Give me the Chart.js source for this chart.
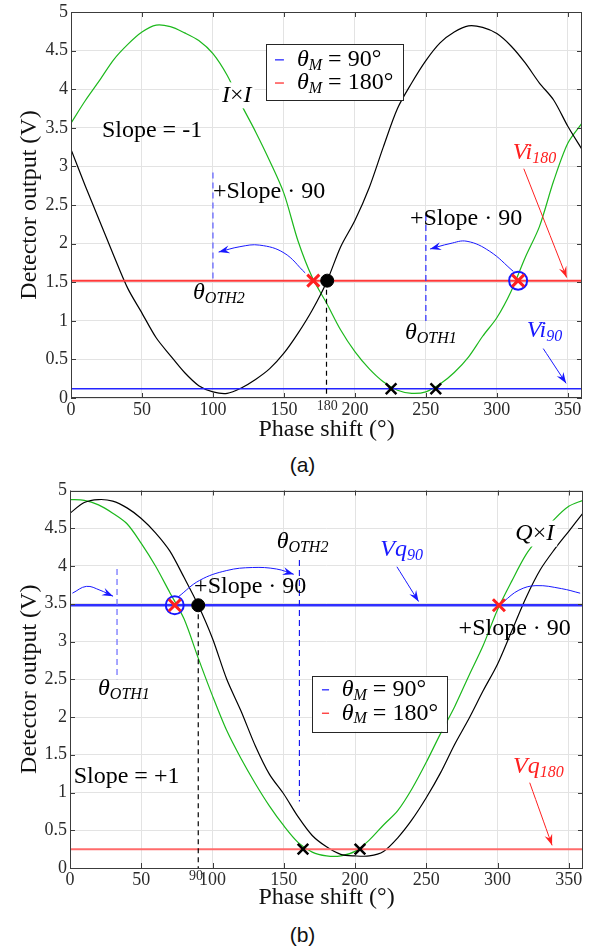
<!DOCTYPE html>
<html>
<head>
<meta charset="utf-8">
<script src="https://cdn.jsdelivr.net/npm/chart.js@4.4.1/dist/chart.umd.min.js"></script>
<style>
    html, body { margin: 0; padding: 0; background: #fff; }
    body { width: 599px; height: 951px; position: relative; overflow: hidden; }
    .panel { position: absolute; left: 0; width: 599px; height: 450px; }
    .cap { position: absolute; left: 3px; width: 599px; text-align: center;
           font-family: 'Liberation Sans', Arial, sans-serif; font-size: 21px; color: #111; }
</style>
</head>
<body>
<div class="panel" style="top:0"><canvas id="chartA" width="599" height="450"></canvas></div>
<div class="cap" style="top:453px">(a)</div>
<div class="panel" style="top:470px"><canvas id="chartB" width="599" height="450"></canvas></div>
<div class="cap" style="top:923px">(b)</div>

<script>
/*
   Detector output vs phase shift, two panels.
   Values every 10 degrees.
*/

const phaseDeg = [0, 10, 20, 30, 40, 50, 60, 70, 80, 90, 100, 110, 120, 130, 140, 150, 160, 170, 180,
    190, 200, 210, 220, 230, 240, 250, 260, 270, 280, 290, 300, 310, 320, 330, 340, 350, 360];

// (a) I x I
const aBlack = [3.22, 2.75, 2.30, 1.85, 1.42, 1.10, 0.78, 0.55, 0.33, 0.16, 0.08, 0.06, 0.13, 0.24, 0.38, 0.58, 0.84, 1.14, 1.50,
    1.96, 2.30, 2.72, 3.25, 3.75, 4.08, 4.37, 4.60, 4.74, 4.82, 4.80, 4.72, 4.56, 4.34, 4.08, 3.86, 3.52, 3.22];
const aGreen = [3.56, 3.85, 4.11, 4.38, 4.58, 4.74, 4.83, 4.81, 4.73, 4.63, 4.46, 4.18, 3.80, 3.45, 3.07, 2.65, 2.03, 1.56, 1.23,
    0.88, 0.60, 0.38, 0.21, 0.10, 0.06, 0.08, 0.18, 0.33, 0.53, 0.80, 1.04, 1.38, 1.82, 2.22, 2.81, 3.30, 3.56];
const aVi90 = 0.12;
const aVi180 = 1.52;

// (b) Q x I
const bBlack = [4.70, 4.84, 4.88, 4.86, 4.77, 4.63, 4.44, 4.20, 3.85, 3.48, 3.04, 2.50, 2.08, 1.62, 1.24, 0.98, 0.68, 0.43, 0.28,
    0.18, 0.16, 0.16, 0.22, 0.40, 0.64, 0.93, 1.26, 1.64, 1.98, 2.35, 2.70, 3.14, 3.58, 3.95, 4.22, 4.46, 4.70];
const bGreen = [4.88, 4.87, 4.81, 4.70, 4.56, 4.30, 4.00, 3.65, 3.30, 2.78, 2.28, 1.82, 1.45, 1.12, 0.82, 0.56, 0.34, 0.21, 0.16,
    0.16, 0.22, 0.37, 0.57, 0.76, 1.05, 1.40, 1.78, 2.14, 2.55, 2.95, 3.42, 3.80, 4.15, 4.40, 4.62, 4.79, 4.87];
const bVq90 = 3.48;
const bVq180 = 0.25;

// markers [phase, volts]
const aRedCross = [[170.7, 1.52], [315, 1.52]];
const aBlackDot = [[180.5, 1.52]];
const aBlueRing = [[315, 1.52]];
const aBlackCross = [[225.5, 0.12], [257, 0.12]];
const bRedCross = [[73.5, 3.48], [301, 3.48]];
const bBlackDot = [[90, 3.48]];
const bBlueRing = [[73.5, 3.48]];
const bBlackCross = [[163.5, 0.25], [203.5, 0.25]];

// dashed guides [phase, from, to]
const aGuides = [[180, 1.52, 0], [100, 2.92, 1.52], [250, 2.37, 0.98]];
const bGuides = [[90, 3.48, 0], [33, 3.96, 2.5], [161, 4.08, 0.88]];

// arrows as point lists
const aArrowLeft = [[165, 1.62], [150, 1.88], [133, 1.98], [119, 1.96], [104, 1.89]];
const aArrowRight = [[311.6, 1.64], [295, 1.90], [279, 2.03], [267, 2.00], [253, 1.93]];
const aArrowVi180 = [[319, 2.97], [349.2, 1.56]];
const aArrowVi90 = [[332.7, 0.64], [348.8, 0.19]];
const bArrowSmall = [[1.7, 3.64], [11.5, 3.73], [21, 3.68], [30.2, 3.60]];
const bArrowBig = [[75.9, 3.59], [91, 3.81], [110, 3.94], [128, 3.98], [145, 3.96], [157, 3.89]];
const bArrowTail = [[304.3, 3.53], [315, 3.68], [327, 3.74], [345, 3.70], [358, 3.64]];
const bArrowVq90 = [[229.4, 3.99], [244.6, 3.53]];
const bArrowVq180 = [[322.6, 1.13], [338.3, 0.30]];

const xTicks = [0, 50, 100, 150, 200, 250, 300, 350];
const legendLabels = ['90°', '180°'];

const SERIF = "'Liberation Serif', 'Times New Roman', serif";
const BLUE = '#1818ff';
const RED = '#ff2020';
const GREEN = '#1cb81c';

document.addEventListener('DOMContentLoaded', () => {
    initPanelA();
    initPanelB();
});

/* ===== helpers ===== */
const toPts = (ys) => phaseDeg.map((x, i) => ({ x, y: ys[i] }));
const pairPts = (arr) => arr.map(p => ({ x: p[0], y: p[1] }));

function curve(ys, color) {
    return { data: toPts(ys), borderColor: color, borderWidth: 1.2, pointRadius: 0, tension: 0.3, order: 5 };
}
function hline(v, color, width) {
    return { data: [{ x: 0, y: v }, { x: 360, y: v }], borderColor: color, borderWidth: width, pointRadius: 0, order: 4 };
}
function guide(g, color, dash) {
    return { data: [{ x: g[0], y: g[1] }, { x: g[0], y: g[2] }], borderColor: color, borderWidth: 1.2,
             borderDash: dash, pointRadius: 0, order: 3 };
}
function arrow(arr, color, head) {
    return { data: pairPts(arr), borderColor: color, borderWidth: 1, pointRadius: 0, tension: 0.4, order: 2, arrowHead: head };
}
function marks(arr, style, color, r, w, fill) {
    return { data: pairPts(arr), showLine: false, pointStyle: style, pointRadius: r, pointBorderWidth: w,
             pointBorderColor: color, pointBackgroundColor: fill || color, order: 0 };
}

const N = (t, c) => ({ t, size: 24, italic: false, sub: false, color: c });
const I = (t, c) => ({ t, size: 24, italic: true, sub: false, color: c });
const S = (t, c) => ({ t, size: 16, italic: true, sub: true, color: c });

function drawRich(ctx, parts, x, y, bg) {
    let cx = x;
    const widths = parts.map(p => {
        ctx.font = (p.italic ? 'italic ' : '') + p.size + 'px ' + SERIF;
        return ctx.measureText(p.t).width;
    });
    if (bg) {
        const w = widths.reduce((a, b) => a + b, 0);
        ctx.fillStyle = '#fff';
        ctx.fillRect(x - 3, y - 13, w + 6, 26);
    }
    ctx.textBaseline = 'middle';
    ctx.textAlign = 'left';
    parts.forEach((p, i) => {
        ctx.font = (p.italic ? 'italic ' : '') + p.size + 'px ' + SERIF;
        ctx.fillStyle = p.color || '#000';
        ctx.fillText(p.t, cx, y + (p.sub ? 6 : 0));
        cx += widths[i];
    });
}

function drawHead(ctx, x1, y1, x2, y2, color) {
    const ang = Math.atan2(y2 - y1, x2 - x1);
    const L = 11, W = 4;
    ctx.save();
    ctx.translate(x2, y2);
    ctx.rotate(ang);
    ctx.fillStyle = color;
    ctx.beginPath();
    ctx.moveTo(0, 0);
    ctx.lineTo(-L, -W);
    ctx.lineTo(-L * 0.65, 0);
    ctx.lineTo(-L, W);
    ctx.closePath();
    ctx.fill();
    ctx.restore();
}

/* Frame, inward ticks, arrow heads, labels, legend */
const DECOR = {};
const decorPlugin = {
    id: 'decor',
    afterDatasetsDraw(chart) {
        const deco = DECOR[chart.canvas.id];
        if (!deco) return;
        const { ctx, chartArea: a } = chart;
        const xs = chart.scales.x, ys = chart.scales.y;
        ctx.save();

        chart.data.datasets.forEach((ds, i) => {
            if (!ds.arrowHead) return;
            const pts = chart.getDatasetMeta(i).data;
            const p1 = pts[pts.length - 2], p2 = pts[pts.length - 1];
            drawHead(ctx, p1.x, p1.y, p2.x, p2.y, ds.borderColor);
        });

        // box and tick marks
        ctx.strokeStyle = '#3c3c3c';
        ctx.lineWidth = 1;
        ctx.strokeRect(Math.round(a.left) + 0.5, Math.round(a.top) + 0.5, Math.round(a.width) - 1, Math.round(a.height) - 1);
        ctx.beginPath();
        xs.ticks.forEach(t => {
            const px = Math.round(xs.getPixelForValue(t.value)) + 0.5;
            ctx.moveTo(px, a.bottom); ctx.lineTo(px, a.bottom - 5);
            ctx.moveTo(px, a.top); ctx.lineTo(px, a.top + 5);
        });
        ys.ticks.forEach(t => {
            const py = Math.round(ys.getPixelForValue(t.value)) + 0.5;
            ctx.moveTo(a.left, py); ctx.lineTo(a.left + 5, py);
            ctx.moveTo(a.right, py); ctx.lineTo(a.right - 5, py);
        });
        ctx.stroke();

        // extra small tick label under the dashed guide
        ctx.font = '14px ' + SERIF;
        ctx.fillStyle = '#2b2b2b';
        ctx.textAlign = 'center';
        ctx.textBaseline = 'middle';
        ctx.fillText(deco.extraTick.text, xs.getPixelForValue(deco.extraTick.x), a.bottom + 8);

        deco.texts.forEach(t => {
            drawRich(ctx, t.parts, xs.getPixelForValue(t.x), ys.getPixelForValue(t.y), t.bg);
        });

        // legend
        const lg = deco.legend;
        const bx1 = xs.getPixelForValue(lg.box[0]), bx2 = xs.getPixelForValue(lg.box[1]);
        const by1 = ys.getPixelForValue(lg.box[2]), by2 = ys.getPixelForValue(lg.box[3]);
        ctx.fillStyle = '#fff';
        ctx.fillRect(bx1, by1, bx2 - bx1, by2 - by1);
        ctx.strokeStyle = '#262626';
        ctx.lineWidth = 1;
        ctx.strokeRect(Math.round(bx1) + 0.5, Math.round(by1) + 0.5, Math.round(bx2 - bx1), Math.round(by2 - by1));
        lg.rows.forEach((r, i) => {
            const py = ys.getPixelForValue(r);
            ctx.strokeStyle = lg.colors[i];
            ctx.lineWidth = 1.2;
            ctx.beginPath();
            ctx.moveTo(xs.getPixelForValue(lg.line[0]), py);
            ctx.lineTo(xs.getPixelForValue(lg.line[1]), py);
            ctx.stroke();
            drawRich(ctx, [I('θ'), S('M'), N(' = ' + legendLabels[i])], xs.getPixelForValue(lg.text), py);
        });
        ctx.restore();
    }
};

function panelOptions(padTop, padRight, yWidth, titlePad) {
    const tickFont = { family: SERIF, size: 18, lineHeight: 1 };
    const titleFont = { family: SERIF, size: 24 };
    return {
        responsive: false,
        animation: false,
        devicePixelRatio: 1,
        layout: { padding: { top: padTop, right: padRight, left: 0, bottom: 0 } },
        plugins: { legend: { display: false }, tooltip: { enabled: false } },
        scales: {
            x: {
                type: 'linear',
                min: 0,
                max: 360,
                afterBuildTicks: (s) => { s.ticks = xTicks.map(v => ({ value: v })); },
                afterFit: (s) => { s.height = 52; },
                ticks: { font: tickFont, color: '#2b2b2b', padding: 3, autoSkip: false, maxRotation: 0 },
                grid: { color: '#e3e3e3', drawTicks: false },
                border: { display: false },
                title: { display: true, text: 'Phase shift (°)', font: titleFont, color: '#111', padding: { bottom: titlePad } }
            },
            y: {
                min: 0,
                max: 5,
                afterFit: (s) => { s.width = yWidth; },
                ticks: { stepSize: 0.5, font: tickFont, color: '#2b2b2b', padding: 3, callback: (v) => String(+v.toFixed(1)) },
                grid: { color: '#e3e3e3', drawTicks: false },
                border: { display: false },
                title: { display: true, text: 'Detector output (V)', font: titleFont, color: '#111', padding: { top: 15 } }
            }
        }
    };
}

/* ===== Panel (a) ===== */
function initPanelA() {
    const ctx = document.getElementById('chartA');
    if (!ctx) return;

    DECOR.chartA = {
        extraTick: { text: '180', x: 180.5 },
        texts: [
            { x: 106.4, y: 3.92, parts: [I('I'), N('×'), I('I')], bg: true },
            { x: 21.8, y: 3.46, parts: [N('Slope = -1')] },
            { x: 100, y: 2.67, parts: [N('+Slope · 90')] },
            { x: 238.8, y: 2.32, parts: [N('+Slope · 90')] },
            { x: 86, y: 1.36, parts: [I('θ'), S('OTH2')] },
            { x: 235.3, y: 0.84, parts: [I('θ'), S('OTH1')] },
            { x: 311.2, y: 3.18, parts: [I('Vi', RED), S('180', RED)] },
            { x: 321, y: 0.87, parts: [I('Vi', BLUE), S('90', BLUE)] }
        ],
        legend: { box: [137.4, 233.9, 4.58, 3.85], rows: [4.38, 4.08], line: [143.7, 150], text: 159.2, colors: [BLUE, RED] }
    };

    new Chart(ctx, {
        type: 'line',
        data: {
            datasets: [
                marks(aRedCross, 'crossRot', RED, 8.5, 3),
                marks(aBlackDot, 'circle', '#000', 6.5, 1),
                marks(aBlueRing, 'circle', BLUE, 9, 2, 'rgba(0,0,0,0)'),
                marks(aBlackCross, 'crossRot', '#000', 7.5, 2.5),
                arrow(aArrowLeft, BLUE, true),
                arrow(aArrowRight, BLUE, true),
                arrow(aArrowVi180, RED, true),
                arrow(aArrowVi90, BLUE, true),
                guide(aGuides[0], '#000', [5, 4]),
                guide(aGuides[1], '#5a5aff', [6, 4]),
                guide(aGuides[2], '#2b2bff', [6, 4]),
                hline(aVi180, '#ff3a3a', 2),
                hline(aVi90, '#2424ff', 1.4),
                curve(aBlack, '#000'),
                curve(aGreen, GREEN)
            ]
        },
        options: panelOptions(8, 17, 71, 6),
        plugins: [decorPlugin]
    });
}

/* ===== Panel (b) ===== */
function initPanelB() {
    const ctx = document.getElementById('chartB');
    if (!ctx) return;

    DECOR.chartB = {
        extraTick: { text: '90', x: 88.5 },
        texts: [
            { x: 145, y: 4.32, parts: [I('θ'), S('OTH2')] },
            { x: 217.7, y: 4.21, parts: [I('Vq', BLUE), S('90', BLUE)] },
            { x: 312.5, y: 4.43, parts: [I('Q'), N('×'), I('I')], bg: true },
            { x: 87.1, y: 3.73, parts: [N('+Slope · 90')] },
            { x: 272.7, y: 3.17, parts: [N('+Slope · 90')] },
            { x: 19.7, y: 2.38, parts: [I('θ'), S('OTH1')] },
            { x: 2.6, y: 1.21, parts: [N('Slope = +1')] },
            { x: 310.9, y: 1.34, parts: [I('Vq', RED), S('180', RED)] }
        ],
        legend: { box: [169.6, 264.5, 2.547, 1.805], rows: [2.36, 2.05], line: [176.8, 181.8], text: 190.7, colors: [BLUE, RED] }
    };

    new Chart(ctx, {
        type: 'line',
        data: {
            datasets: [
                marks(bRedCross, 'crossRot', RED, 8.5, 3),
                marks(bBlackDot, 'circle', '#000', 6.5, 1),
                marks(bBlueRing, 'circle', BLUE, 9, 2, 'rgba(0,0,0,0)'),
                marks(bBlackCross, 'crossRot', '#000', 7.5, 2.5),
                arrow(bArrowSmall, BLUE, true),
                arrow(bArrowBig, BLUE, true),
                arrow(bArrowTail, BLUE, false),
                arrow(bArrowVq90, BLUE, true),
                arrow(bArrowVq180, RED, true),
                guide(bGuides[0], '#000', [5, 4]),
                guide(bGuides[1], '#6a6aff', [6, 4]),
                guide(bGuides[2], '#1a1aee', [6, 4]),
                hline(bVq90, '#3030ff', 2.5),
                hline(bVq180, '#ff6b6b', 2),
                curve(bBlack, '#000'),
                curve(bGreen, GREEN)
            ]
        },
        options: panelOptions(20.5, 16, 70, 8),
        plugins: [decorPlugin]
    });
}
</script>
</body>
</html>
